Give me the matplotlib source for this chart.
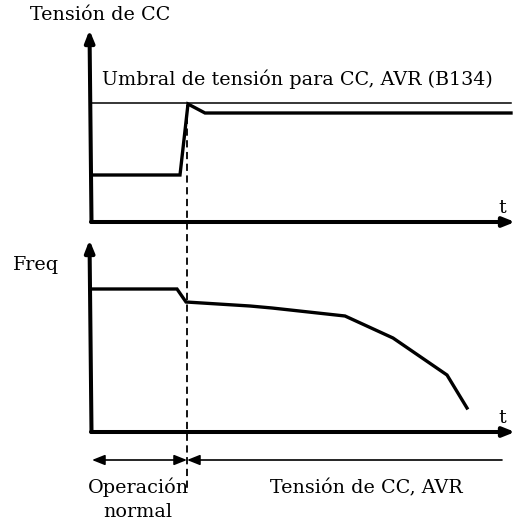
import matplotlib
matplotlib.use("Agg")
import matplotlib.pyplot as plt

# time axis (same for both panels), values in arbitrary units
volt_t = [0, 89, 97, 114, 420]
volt_v = [47, 47, 118, 109, 109]
threshold = 119
threshold_t = [0, 420]

freq_t = [0, 86, 95, 159, 181, 254, 302, 356, 376]
freq_v = [143, 143, 130, 126, 124, 116, 94, 57, 24]

t_switch = 96
t_end = 424
axis_top = 192

# vertical offsets of the two panels
TOP0 = 302
BOT0 = 92

plt.rcParams['font.family'] = ['DejaVu Serif']
FS = 13.8

fig = plt.figure(figsize=(5.16, 5.24), dpi=100)
ax = fig.add_axes([0, 0, 1, 1])
ax.set_xlim(-91, 425)
ax.set_ylim(0, 524)
ax.axis('off')

axis_arrow = dict(arrowstyle='-|>,head_length=0.5,head_width=0.2', lw=2.9,
                  color='black', shrinkA=0, shrinkB=0, mutation_scale=14)

for y0 in (TOP0, BOT0):
    # y axis (slightly leaning like the drawing)
    ax.annotate('', xy=(-1.5, y0 + axis_top), xytext=(0.5, y0), arrowprops=axis_arrow)
    # x axis
    ax.annotate('', xy=(t_end, y0), xytext=(0, y0), arrowprops=axis_arrow)

# threshold line and DC voltage
ax.plot(threshold_t, [TOP0 + threshold] * 2, color='black', lw=1.1)
ax.plot(volt_t, [TOP0 + v for v in volt_v], color='black', lw=2.4,
        solid_joinstyle='miter')

# frequency
ax.plot(freq_t, [BOT0 + v for v in freq_v], color='black', lw=2.4,
        solid_joinstyle='miter')

# dashed switch line
ax.plot([t_switch, t_switch], [TOP0 + threshold - 2, 34], color='black', lw=1.3,
        linestyle=(0, (4, 2.5)))

# phase arrows
y_arr = 64
small_arrow = dict(lw=1.2, color='black', shrinkA=0, shrinkB=0, mutation_scale=14)
ax.annotate('', xy=(1, y_arr), xytext=(t_switch, y_arr),
            arrowprops=dict(arrowstyle='<|-|>,head_length=0.55,head_width=0.22', **small_arrow))
ax.annotate('', xy=(t_switch, y_arr), xytext=(411, y_arr),
            arrowprops=dict(arrowstyle='-|>,head_length=0.55,head_width=0.22', **small_arrow))

# texts
ax.text(-61, 504, 'Tensión de CC', fontsize=FS, ha='left', va='baseline')
ax.text(11, 439, 'Umbral de tensión para CC, AVR (B134)', fontsize=FS,
        ha='left', va='baseline')
ax.text(-78, 254, 'Freq', fontsize=FS, ha='left', va='baseline')
ax.text(411, 311, 't', fontsize=FS, ha='center', va='baseline')
ax.text(411, 101, 't', fontsize=FS, ha='center', va='baseline')
ax.text(47, 31, 'Operación', fontsize=FS, ha='center', va='baseline')
ax.text(47, 7, 'normal', fontsize=FS, ha='center', va='baseline')
ax.text(275, 31, 'Tensión de CC, AVR', fontsize=FS, ha='center', va='baseline')

fig.savefig('out.png', dpi=100)
